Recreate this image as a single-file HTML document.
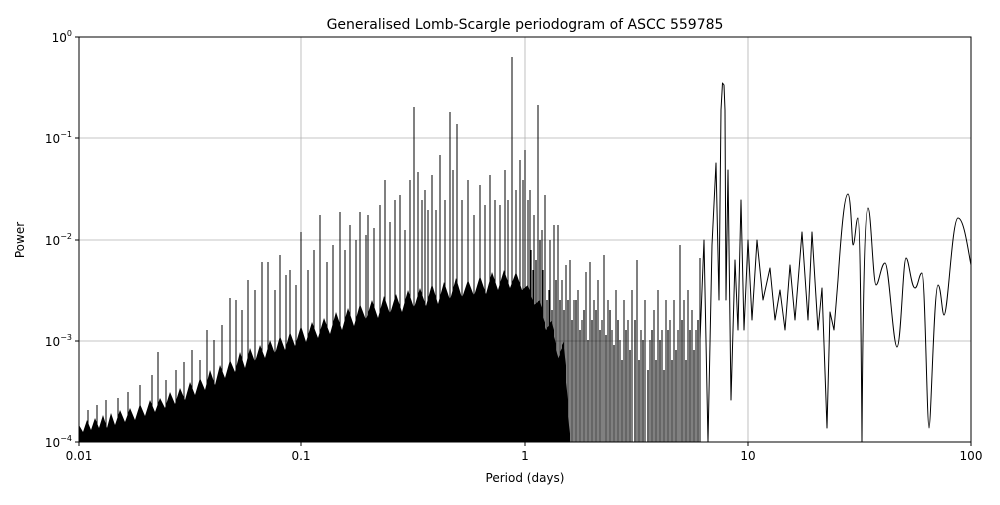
<!DOCTYPE html>
<html><head><meta charset="utf-8"><style>
body{margin:0;background:#fff;}
text{font-family:"DejaVu Sans","Liberation Sans",sans-serif;fill:#000;}
</style></head><body>
<svg width="1000" height="500" xmlns="http://www.w3.org/2000/svg">
<rect width="1000" height="500" fill="#fff"/>
<defs><clipPath id="c"><rect x="79" y="37" width="892" height="405"/></clipPath></defs>
<g stroke="#b0b0b0" stroke-width="0.8">
<line x1="301" y1="37" x2="301" y2="442"/><line x1="525" y1="37" x2="525" y2="442"/><line x1="748" y1="37" x2="748" y2="442"/>
<line x1="79" y1="138" x2="971" y2="138"/><line x1="79" y1="240" x2="971" y2="240"/><line x1="79" y1="341" x2="971" y2="341"/>
</g>
<g clip-path="url(#c)">
<polygon fill="#000" points="79,442 79,425 83,432 87,420 91,430 95,418 99,428 103,415 107,428 111,413 115,425 120,410 125,422 130,408 135,420 140,404 145,416 150,400 155,412 160,398 165,408 170,392 175,404 180,388 185,400 190,382 195,395 200,378 205,390 210,370 215,385 220,365 225,378 230,360 235,372 240,352 245,368 250,348 255,362 260,345 265,358 270,340 275,354 280,336 285,350 290,332 295,346 301,326 306,342 312,322 318,338 324,318 330,334 336,312 342,330 348,308 354,326 360,304 366,320 372,300 378,318 384,296 390,314 396,294 402,312 408,290 414,308 420,288 426,306 432,284 438,304 444,282 450,300 456,278 462,298 468,280 474,296 480,276 486,294 492,272 498,290 504,270 510,288 516,272 522,290 528,285 534,305 540,300 546,330 552,320 558,360 564,340 570,442"/>
<path fill="none" stroke="#000" stroke-width="1" d="M88 442V410M97 442V405M106 442V400M118 442V398M128 442V392M140 442V385M152 442V375M158 442V352M166 442V380M176 442V370M184 442V362M192 442V350M200 442V360M207 442V330M214 442V340M222 442V325M230 442V298M236 442V300M242 442V310M248 442V280M255 442V290M262 442V262M268 442V262M275 442V290M280 442V255M286 442V275M290 442V270M296 442V285M301 442V232M308 442V270M314 442V250M320 442V215M327 442V262M333 442V245M340 442V212M345 442V250M350 442V225M356 442V240M360 442V212M366 442V235M368 442V215M374 442V228M380 442V205M385 442V180M390 442V222M395 442V200M400 442V195M405 442V230M410 442V180M414 442V107M418 442V172M422 442V200M425 442V190M428 442V210M432 442V175M436 442V210M440 442V155M445 442V200M450 442V112M453 442V170M457 442V124M462 442V200M468 442V180M474 442V215M480 442V185M485 442V205M490 442V175M495 442V200M500 442V205M505 442V170M508 442V200M512 442V57M516 442V190M520 442V160M523 442V180M525 442V150M528 442V200M530 442V190M534 442V215M538 442V105M542 442V230M545 442V195M550 442V240M554 442V225M558 442V225M562 442V280M566 442V265M570 442V260M574 442V300M578 442V290M582 442V320M586 442V272M590 442V262M594 442V300M598 442V280M602 442V320M604 442V255M608 442V300M612 442V330M616 442V290M620 442V340M624 442V300M628 442V320M632 442V290M637 442V260M641 442V330M645 442V300M650 442V340M654 442V310M658 442V290M662 442V330M666 442V300M670 442V320M674 442V300M678 442V330M680 442V245M684 442V300M688 442V290M692 442V310M696 442V330M700 442V258"/>
<path fill="none" stroke="#000" stroke-width="1.2" d="M547 442V300M549 442V290M552 442V310M556 442V280M560 442V300M564 442V310M568 442V300M572 442V320M576 442V300M580 442V330M584 442V310M588 442V340M592 442V320M596 442V310M600 442V330M606 442V335M610 442V310M614 442V345M618 442V320M622 442V360M626 442V330M630 442V350M635 442V320M639 442V360M643 442V340M648 442V370M652 442V330M656 442V360M660 442V340M664 442V370M668 442V330M672 442V360M676 442V350M682 442V320M686 442V360M690 442V330M694 442V350M698 442V320M531 442V250M533 442V270M536 442V260M540 442V240M543 442V270"/>
<path fill="none" stroke="#000" stroke-width="1" stroke-linejoin="round" d="M700 340 L704 240 L708 442 L712 245 L716 163 L719 300 L721 110 L722.5 83 L724 85 L725 110 L726 300 L728 170 L731 400 L735 260 L738 330 L741 200 L744 330 L748 240 L752 320 L757 240 L763 300 L770 268 L775 320 L780 290 L785 330 L790 265 L795 320 L802 232 L808 320 L812 232 L818 330 L822 288 L827 428 L830 312 L834 330 L838 280 C842 220 845 194 848 194 C851 194 852 245 853 245 C855 245 856 218 858 218 C860 218 861 300 862 442 C863 300 865 208 868 208 C871 208 873 285 876 285 C879 285 881 263 885 263 C889 263 893 347 897 347 C901 347 903 258 906 258 C909 258 911 288 915 288 C918 288 919 273 922 273 C925 273 927 428 929 428 C931 428 934 285 938 285 C941 285 942 315 944 315 C948 315 952 218 958 218 C964 218 968 250 971 265"/>
</g>
<rect x="79" y="37" width="892" height="405" fill="none" stroke="#000" stroke-width="1"/>
<g stroke="#000"><line x1="79" y1="442" x2="79" y2="446"/><line x1="301" y1="442" x2="301" y2="446"/><line x1="525" y1="442" x2="525" y2="446"/><line x1="748" y1="442" x2="748" y2="446"/><line x1="971" y1="442" x2="971" y2="446"/>
<line x1="75" y1="37" x2="79" y2="37"/><line x1="75" y1="138" x2="79" y2="138"/><line x1="75" y1="240" x2="79" y2="240"/><line x1="75" y1="341" x2="79" y2="341"/><line x1="75" y1="442" x2="79" y2="442"/></g>
<g font-size="12" text-anchor="middle">
<text x="79" y="460">0.01</text><text x="301" y="460">0.1</text><text x="525" y="460">1</text><text x="748" y="460">10</text><text x="971" y="460">100</text>
<text x="525" y="482">Period (days)</text>
</g>
<g font-size="12" text-anchor="end">
<text x="72" y="42">10<tspan font-size="8" dy="-6">0</tspan></text>
<text x="72" y="143">10<tspan font-size="8" dy="-6">−1</tspan></text>
<text x="72" y="245">10<tspan font-size="8" dy="-6">−2</tspan></text>
<text x="72" y="346">10<tspan font-size="8" dy="-6">−3</tspan></text>
<text x="72" y="447">10<tspan font-size="8" dy="-6">−4</tspan></text>
</g>
<text x="24" y="240" font-size="12" text-anchor="middle" transform="rotate(-90 24 240)">Power</text>
<text x="525" y="29" font-size="14" text-anchor="middle">Generalised Lomb-Scargle periodogram of ASCC 559785</text>
</svg>
</body></html>
